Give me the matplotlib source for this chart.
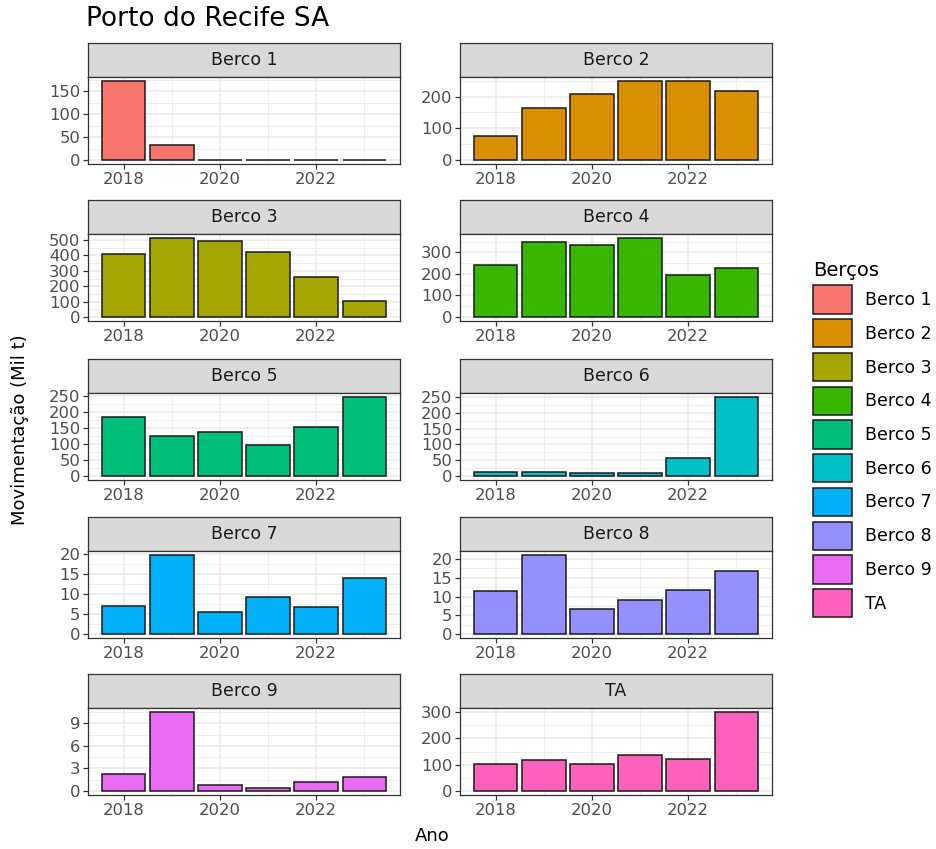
import matplotlib.pyplot as plt
from matplotlib.patches import Patch
from matplotlib.ticker import MultipleLocator

plt.rcParams['font.family'] = ['DejaVu Sans']

anos = [2018, 2019, 2020, 2021, 2022, 2023]
bercos = ['Berco 1', 'Berco 2', 'Berco 3', 'Berco 4', 'Berco 5',
          'Berco 6', 'Berco 7', 'Berco 8', 'Berco 9', 'TA']
cores = ['#F8766D', '#D89000', '#A3A500', '#39B600', '#00BF7D',
         '#00BFC4', '#00B0F6', '#9590FF', '#E76BF3', '#FF62BC']

# movimentação (mil t) por berço e ano
berco1 = [173, 33, 0, 0, 0, 0]
berco2 = [76, 163, 209, 249, 249, 217]
berco3 = [409, 513, 494, 420, 262, 102]
berco4 = [240, 347, 333, 367, 194, 227]
berco5 = [184, 124, 136, 97, 151, 246]
berco6 = [13.5, 13.5, 9.4, 9.4, 58, 250]
berco7 = [7.1, 19.7, 5.6, 9.3, 6.8, 14.0]
berco8 = [11.4, 21.1, 6.8, 9.1, 11.8, 16.8]
berco9 = [2.3, 10.5, 0.75, 0.4, 1.15, 1.9]
ta = [103, 116, 103, 136, 121, 300]
valores = [berco1, berco2, berco3, berco4, berco5, berco6, berco7, berco8, berco9, ta]
passo_y = [50, 100, 100, 100, 50, 50, 5, 5, 3, 100]

W, H = 937, 849
fig = plt.figure(figsize=(W / 100, H / 100), dpi=100)

col_x = [88, 460]
pan_w = 312
strip_top = [43, 200, 359, 517, 674]
strip_h = 34
pan_h = 87

for i, nome in enumerate(bercos):
    r, c = divmod(i, 2)
    x0 = col_x[c]
    ys = strip_top[r]
    # faixa com o nome do berço
    sax = fig.add_axes([x0 / W, 1 - (ys + strip_h) / H, pan_w / W, strip_h / H])
    sax.set_facecolor('#D9D9D9')
    sax.set_xticks([])
    sax.set_yticks([])
    for s in sax.spines.values():
        s.set_color('#333333')
        s.set_linewidth(0.9)
    sax.text(0.5, 0.5, nome, ha='center', va='center', fontsize=12.5, color='#1A1A1A')

    ax = fig.add_axes([x0 / W, 1 - (ys + strip_h + pan_h) / H, pan_w / W, pan_h / H])
    v = valores[i]
    ax.bar(anos, v, width=0.9, color=cores[i], edgecolor='#1A1A1A', linewidth=1.1, zorder=3)
    ymax = max(v)
    ax.set_ylim(-0.05 * ymax, 1.05 * ymax)
    ax.set_xlim(2017.255, 2023.745)
    ax.xaxis.set_major_locator(MultipleLocator(2))
    ax.xaxis.set_minor_locator(MultipleLocator(1))
    ax.yaxis.set_major_locator(MultipleLocator(passo_y[i]))
    ax.yaxis.set_minor_locator(MultipleLocator(passo_y[i] / 2))
    ax.grid(which='major', color='#EBEBEB', linewidth=1.2, zorder=0)
    ax.grid(which='minor', color='#EBEBEB', linewidth=0.6, zorder=0)
    ax.set_axisbelow(True)
    ax.tick_params(which='major', length=3.5, width=0.9, color='#333333',
                   labelsize=11.8, labelcolor='#4D4D4D', pad=2)
    ax.tick_params(which='minor', length=0)
    for s in ax.spines.values():
        s.set_color('#333333')
        s.set_linewidth(0.9)

fig.text(86 / W, 1 - 19 / H, 'Porto do Recife SA', fontsize=19, ha='left', va='center')
fig.text(20 / W, 1 - 430 / H, 'Movimentação (Mil t)', rotation=90, fontsize=13,
         ha='center', va='center')
fig.text(432 / W, 1 - 836 / H, 'Ano', fontsize=13, ha='center', va='center')

handles = [Patch(facecolor=cores[i], edgecolor='#1A1A1A', linewidth=1.1) for i in range(len(bercos))]
leg = fig.legend(handles, bercos, loc='upper left', bbox_to_anchor=(806 / W, 1 - 254 / H),
                 frameon=False, title='Berços', title_fontsize=14, fontsize=12.5,
                 handlelength=2.24, handleheight=2.12, labelspacing=0.32, handletextpad=0.75,
                 borderaxespad=0)
leg._legend_box.align = 'left'

fig.savefig('out.png', dpi=100)
